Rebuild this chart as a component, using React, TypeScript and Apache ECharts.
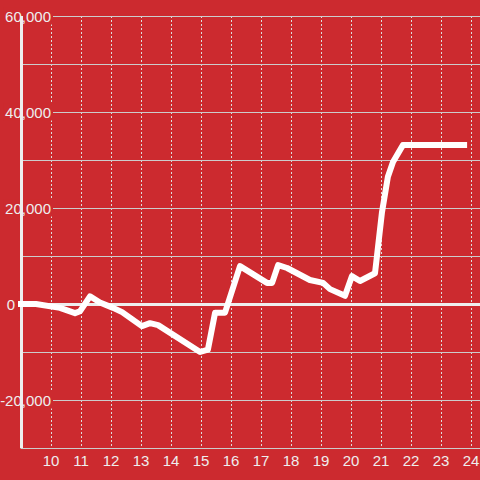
import React, { useEffect, useRef } from "react";
import * as echarts from "echarts";

const times = [9.0, 9.5, 10.3, 10.8, 10.97, 11.3, 11.63, 12.07, 12.37, 13.03, 13.3, 13.57, 14.97, 15.23, 15.47, 15.8, 16.3, 17.2, 17.37, 17.57, 17.87, 18.63, 19.07, 19.3, 19.8, 20.03, 20.3, 20.8, 21.03, 21.23, 21.4, 21.73, 23.77];
const values = [0, 0, -800, -1900, -1500, 1600, 300, -800, -1700, -4600, -4000, -4400, -10000, -9500, -1800, -1800, 7900, 4400, 4400, 8100, 7500, 5000, 4400, 3100, 1700, 5800, 4800, 6400, 19000, 26500, 29600, 33100, 33100];
const yMin = -30000;
const yMax = 60000;
const yStep = 10000;
const yLabelStep = 20000;
const xMin = 9;
const xMax = 24.3;

const BG = "#cc2a2f";
const TXT = "#eeeeee";

export default function App() {
  const ref = useRef<HTMLDivElement>(null);
  useEffect(() => {
    if (!ref.current) return;
    const chart = echarts.init(ref.current, null, { renderer: "svg" });
    const data = times.map((t, i) => [t, values[i]]);
    chart.setOption({
      animation: false,
      backgroundColor: BG,
      textStyle: { fontFamily: "Liberation Sans, Arial, sans-serif" },
      grid: { left: 21, right: 0, top: 16, bottom: 32, containLabel: false, outerBoundsMode: "none" },
      xAxis: {
        type: "value",
        min: xMin,
        max: xMax,
        interval: 1,
        axisLine: { show: true, onZero: false, lineStyle: { color: "#cccccc", width: 1 } },
        axisTick: { show: false },
        axisLabel: {
          color: TXT,
          fontSize: 15,
          margin: 5,
          showMaxLabel: false,
          formatter: (v: number) => (Number.isInteger(v) && v >= 10 ? String(v) : ""),
        },
        splitLine: { show: true, lineStyle: { color: "#dddddd", width: 1, type: [2, 2] } },
      },
      yAxis: {
        type: "value",
        min: yMin,
        max: yMax,
        interval: yStep,
        axisLine: { show: false, onZero: false },
        axisTick: { show: false },
        axisLabel: {
          margin: -32,
          align: "right",
          formatter: (v: number) => {
            if (v % yLabelStep !== 0) return "";
            if (v === 0) return "{z|0}";
            return "{n|" + v.toLocaleString("en-US") + "}";
          },
          rich: {
            n: { color: TXT, fontSize: 15, backgroundColor: BG, padding: [1, 2, 1, 2] },
            z: { color: TXT, fontSize: 15, padding: [1, 38, 1, 0] },
          },
        },
        splitLine: { show: true, lineStyle: { color: "#cccccc", width: 1 } },
        z: 2,
      },
      series: [
        {
          type: "line",
          data,
          showSymbol: false,
          symbol: "none",
          clip: false,
          lineStyle: { color: "#ffffff", width: 6, cap: "square", join: "round" },
          z: 5,
          markLine: {
            silent: true,
            symbol: "none",
            label: { show: false },
            lineStyle: { color: "#eeeeee", width: 3, type: "solid" },
            data: [{ yAxis: 0 }, { xAxis: xMin }],
          },
        },
      ],
    });
    return () => chart.dispose();
  }, []);
  return <div ref={ref} style={{ position: "fixed", left: 0, top: 0, width: 480, height: 480 }} />;
}
